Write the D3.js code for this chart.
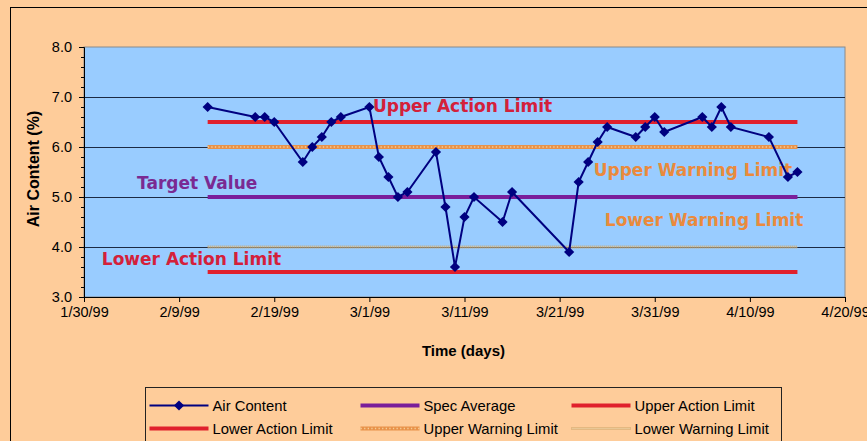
<!DOCTYPE html>
<html>
<head>
<meta charset="utf-8">
<script src="https://cdn.jsdelivr.net/npm/d3@7"></script>
<style>
  body { margin: 0; background: #fecc9a; }
  svg { display: block; }
</style>
</head>
<body>
<div id="chart"></div>
<script>
// data
var dates = ["2/12/99", "2/17/99", "2/18/99", "2/19/99", "2/22/99", "2/23/99", "2/24/99", "2/25/99",
  "2/26/99", "3/1/99", "3/2/99", "3/3/99", "3/4/99", "3/5/99", "3/8/99", "3/9/99", "3/10/99",
  "3/11/99", "3/12/99", "3/15/99", "3/16/99", "3/22/99", "3/23/99", "3/24/99", "3/25/99",
  "3/26/99", "3/29/99", "3/30/99", "3/31/99", "4/1/99", "4/5/99", "4/6/99", "4/7/99", "4/8/99",
  "4/12/99", "4/14/99", "4/15/99"];
var airContent = [6.8, 6.6, 6.6, 6.5, 5.7, 6.0, 6.2, 6.5, 6.6, 6.8, 5.8, 5.4, 5.0, 5.1, 5.9, 4.8,
  3.6, 4.6, 5.0, 4.5, 5.1, 3.9, 5.3, 5.7, 6.1, 6.4, 6.2, 6.4, 6.6, 6.3, 6.6, 6.4, 6.8, 6.4, 6.2,
  5.4, 5.5];
var limitNames = ["Spec Average", "Upper Action Limit", "Lower Action Limit", "Upper Warning Limit", "Lower Warning Limit"];
var limitValues = [5.0, 6.5, 3.5, 6.0, 4.0];
var xTickLabels = ["1/30/99", "2/9/99", "2/19/99", "3/1/99", "3/11/99", "3/21/99", "3/31/99", "4/10/99", "4/20/99"];
var yTicks = [3, 4, 5, 6, 7, 8];
var legendNames = ["Air Content", "Spec Average", "Upper Action Limit", "Lower Action Limit", "Upper Warning Limit", "Lower Warning Limit"];
// text annotations inside the plot (date + hour, value at baseline)
var noteTexts = ["Upper Action Limit", "Upper Warning Limit", "Target Value", "Lower Warning Limit", "Lower Action Limit"];
var noteDates = ["3/1/99 09", "3/24/99 14", "2/4/99 14", "3/25/99 18", "1/31/99 21"];
var noteValues = [6.70, 5.43, 5.17, 4.43, 3.64];

var parse = d3.timeParse("%m/%d/%y");
var parseHour = d3.timeParse("%m/%d/%y %H");

// chart dimensions
var width = 867, height = 441;
var margin = { top: 47, right: 22, bottom: 144, left: 84 };
var innerW = width - margin.left - margin.right;
var innerH = height - margin.top - margin.bottom;
var font = "'Liberation Sans', Arial, sans-serif";

// styles for each series
var styles = {
  "Air Content": { color: "#000080", width: 2 },
  "Spec Average": { color: "#7a1e9a", width: 4 },
  "Upper Action Limit": { color: "#e0202c", width: 4 },
  "Lower Action Limit": { color: "#e0202c", width: 4 },
  "Upper Warning Limit": { color: "#e8924a", width: 4 },
  "Lower Warning Limit": { color: "#caa468", width: 3, dash: "1,1" }
};
var noteColors = ["#d4203a", "#ea8a3c", "#7a2a92", "#ea8a3c", "#d4203a"];

var svg = d3.select("#chart").append("svg")
  .attr("width", width)
  .attr("height", height);

// outer frame
svg.append("rect")
  .attr("x", 10.5).attr("y", 7.5)
  .attr("width", width + 10).attr("height", height + 10)
  .attr("fill", "#fecc9a")
  .attr("stroke", "#000").attr("stroke-width", 1);

var chart = svg.append("g")
  .attr("transform", "translate(" + margin.left + "," + margin.top + ")");

// scales
var x = d3.scaleTime()
  .domain([parse(xTickLabels[0]), parse(xTickLabels[xTickLabels.length - 1])])
  .range([0, innerW]);
var y = d3.scaleLinear().domain([3, 8]).range([innerH, 0]);

// plot background
chart.append("rect")
  .attr("width", innerW).attr("height", innerH)
  .attr("fill", "#99ccff")
  .attr("stroke", "#8a8a8a").attr("stroke-width", 1);

// gridlines
chart.selectAll(".grid")
  .data(yTicks.filter(function(d) { return d > 3 && d < 8; }))
  .enter().append("line")
  .attr("class", "grid")
  .attr("x1", 0).attr("x2", innerW)
  .attr("y1", function(d) { return y(d) + 0.5; })
  .attr("y2", function(d) { return y(d) + 0.5; })
  .attr("stroke", "#1c2a44").attr("stroke-width", 1);

// draws one limit style on a line segment
function styledLine(g, name, x1, x2, yy) {
  var st = styles[name];
  var l = g.append("line")
    .attr("x1", x1).attr("x2", x2).attr("y1", yy).attr("y2", yy)
    .attr("stroke", st.color).attr("stroke-width", st.width);
  if (st.dash) l.attr("stroke-dasharray", st.dash);
  if (name === "Upper Warning Limit") {
    // chain of small hollow circles
    g.append("line")
      .attr("x1", x1).attr("x2", x2).attr("y1", yy).attr("y2", yy)
      .attr("stroke", "#f6cf98").attr("stroke-width", 1.3)
      .attr("stroke-dasharray", "1.3,2.3");
  }
  if (name === "Lower Warning Limit") {
    g.append("line")
      .attr("x1", x1).attr("x2", x2).attr("y1", yy).attr("y2", yy)
      .attr("stroke", "#eed7a8").attr("stroke-width", 1)
      .attr("stroke-dasharray", "1,1").attr("stroke-dashoffset", 1);
  }
}

// limit lines between first and last sample
var first = parse(dates[0]), last = parse(dates[dates.length - 1]);
[3, 4, 0, 1, 2].forEach(function(i) {
  styledLine(chart, limitNames[i], x(first), x(last), y(limitValues[i]));
});

// annotations
chart.selectAll(".note")
  .data(noteTexts)
  .enter().append("text")
  .attr("class", "note")
  .attr("x", function(d, i) { return x(parseHour(noteDates[i])); })
  .attr("y", function(d, i) { return y(noteValues[i]); })
  .attr("fill", function(d, i) { return noteColors[i]; })
  .style("font-family", "'DejaVu Sans', Verdana, sans-serif")
  .style("font-weight", "bold")
  .style("font-size", "17px")
  .text(function(d) { return d; });

// air content line and markers
var points = dates.map(function(d, i) { return { date: parse(d), value: airContent[i] }; });
var line = d3.line()
  .x(function(d) { return x(d.date); })
  .y(function(d) { return y(d.value); });

chart.append("path")
  .datum(points)
  .attr("fill", "none")
  .attr("stroke", styles["Air Content"].color)
  .attr("stroke-width", 2)
  .attr("d", line);

var diamond = d3.symbol().type(d3.symbolSquare).size(52);
chart.selectAll(".dot")
  .data(points)
  .enter().append("path")
  .attr("class", "dot")
  .attr("d", diamond)
  .attr("transform", function(d) { return "translate(" + x(d.date) + "," + y(d.value) + ") rotate(45)"; })
  .attr("fill", "#000080");

// axes
var xAxis = d3.axisBottom(x)
  .tickValues(xTickLabels.map(parse))
  .tickSize(5)
  .tickFormat(function(d, i) { return xTickLabels[i]; });
var gx = chart.append("g")
  .attr("transform", "translate(0," + innerH + ")")
  .call(xAxis);

var yAxis = d3.axisLeft(y)
  .tickValues(yTicks)
  .tickSize(5)
  .tickFormat(d3.format(".1f"));
var gy = chart.append("g").call(yAxis);

// minor y ticks
chart.selectAll(".minor")
  .data(d3.range(3, 8.001, 0.2))
  .enter().append("line")
  .attr("x1", -3).attr("x2", 0)
  .attr("y1", function(d) { return Math.round(y(d)) + 0.5; })
  .attr("y2", function(d) { return Math.round(y(d)) + 0.5; })
  .attr("stroke", "#000");

[gx, gy].forEach(function(g) {
  g.select(".domain").attr("stroke", "#000");
  g.selectAll(".tick line").attr("stroke", "#000");
  g.selectAll("text")
    .style("font-family", font)
    .style("font-size", "14.5px")
    .attr("fill", "#000");
});
gx.selectAll("text").attr("y", 10).attr("dy", "0.71em");
gy.selectAll("text").attr("x", -12);

// axis titles
svg.append("text")
  .attr("x", margin.left + innerW / 2 - 1)
  .attr("y", 356)
  .attr("text-anchor", "middle")
  .style("font-family", font)
  .style("font-weight", "bold")
  .style("font-size", "15px")
  .text("Time (days)");

svg.append("text")
  .attr("transform", "translate(39," + (margin.top + innerH / 2 - 3) + ") rotate(-90)")
  .attr("text-anchor", "middle")
  .style("font-family", font)
  .style("font-weight", "bold")
  .style("font-size", "16px")
  .text("Air Content (%)");

// legend
var legend = svg.append("g").attr("transform", "translate(145.5,387.5)");
legend.append("rect")
  .attr("width", 636).attr("height", 70)
  .attr("fill", "#fecc9a")
  .attr("stroke", "#222").attr("stroke-width", 1);

var colX = [4, 215, 426];
var rowY = [18, 41];
legendNames.forEach(function(name, i) {
  var cx = colX[i % 3], cy = rowY[Math.floor(i / 3)];
  var g = legend.append("g").attr("transform", "translate(" + cx + "," + cy + ")");
  if (name === "Air Content") {
    g.append("line").attr("x1", 0).attr("x2", 59)
      .attr("stroke", styles[name].color).attr("stroke-width", 2);
    g.append("path").attr("d", diamond)
      .attr("transform", "translate(29.5,0) rotate(45)")
      .attr("fill", "#000080");
  } else {
    styledLine(g, name, 0, 59, 0);
  }
  g.append("text")
    .attr("x", 63).attr("y", 5)
    .style("font-family", font)
    .style("font-size", "14.8px")
    .text(name);
});
</script>
</body>
</html>
